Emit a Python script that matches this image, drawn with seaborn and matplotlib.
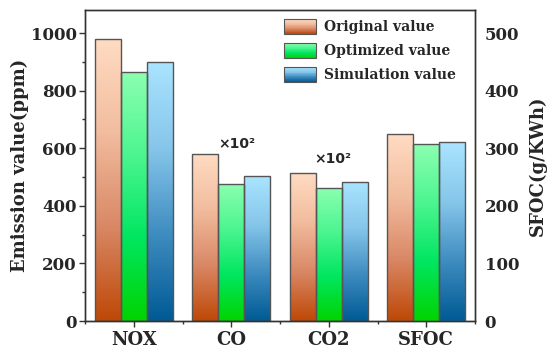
import numpy as np
import pandas as pd
import matplotlib
matplotlib.use("Agg")
import matplotlib.pyplot as plt
import seaborn as sns
from matplotlib.colors import LinearSegmentedColormap, to_rgba
from matplotlib.patches import Patch, Rectangle
from matplotlib.legend_handler import HandlerBase
from matplotlib.ticker import MultipleLocator, FixedLocator

# ==========================================================
# DATA
# ==========================================================

categories = ["NOX", "CO", "CO2", "SFOC"]
series = ["Original value", "Optimized value", "Simulation value"]

# emissions (ppm, CO / CO2 shown x10^2)
emis_categories = ["NOX", "CO", "CO2"]
original = [980, 581, 515]
optimized = [863, 477, 462]
simulation = [901, 503, 484]

# specific fuel oil consumption (g/KWh), right axis
sfoc_original = [324]
sfoc_optimized = [307]
sfoc_simulation = [310]

left_ticks = [0, 200, 400, 600, 800, 1000]
right_ticks = [0, 100, 200, 300, 400, 500]

# ==========================================================
# STYLE
# ==========================================================

sns.set_style("ticks")
plt.rcParams["font.family"] = ["DejaVu Serif"]
plt.rcParams["font.weight"] = "bold"

# bottom -> top colours of each gradient
grad_colors = {
    "Original value": ["#BE4806", "#D98866", "#F2BC9E", "#FFDCC3"],
    "Optimized value": ["#00D400", "#00E660", "#4CF590", "#8CFFB0"],
    "Simulation value": ["#005A94", "#3E8CC0", "#86C6EA", "#AAE4FF"],
}
cmaps = {k: LinearSegmentedColormap.from_list(k, v) for k, v in grad_colors.items()}
palette = {k: v[1] for k, v in grad_colors.items()}

df_emis = pd.DataFrame({
    "category": emis_categories * 3,
    "series": np.repeat(series, len(emis_categories)),
    "value": original + optimized + simulation,
})
df_sfoc = pd.DataFrame({
    "category": ["SFOC"] * 3,
    "series": series,
    "value": sfoc_original + sfoc_optimized + sfoc_simulation,
})

fig, ax = plt.subplots(figsize=(5.5, 3.56), dpi=100)
fig.subplots_adjust(left=85 / 550, right=475 / 550, bottom=1 - 321 / 356, top=1 - 10 / 356)
ax2 = ax.twinx()

sns.barplot(data=df_emis, x="category", y="value", hue="series", order=categories,
            hue_order=series, palette=palette, errorbar=None, width=0.8,
            saturation=1, legend=False, ax=ax)
sns.barplot(data=df_sfoc, x="category", y="value", hue="series", order=categories,
            hue_order=series, palette=palette, errorbar=None, width=0.8,
            saturation=1, legend=False, ax=ax2)

# ==========================================================
# GRADIENT FILL
# ==========================================================

color_to_cmap = {tuple(np.round(to_rgba(palette[s]), 2)): cmaps[s] for s in series}
grad = np.linspace(0, 1, 256).reshape(-1, 1)

for axis in (ax, ax2):
    for p in list(axis.patches):
        key = tuple(np.round(p.get_facecolor(), 2))
        if key not in color_to_cmap:
            continue
        x0, y0 = p.get_x(), p.get_y()
        w, h = p.get_width(), p.get_height()
        if h <= 0:
            continue
        im = axis.imshow(grad, extent=[x0, x0 + w, y0, y0 + h], origin="lower",
                         aspect="auto", cmap=color_to_cmap[key], zorder=1)
        im.set_clip_path(p)
        p.set_facecolor("none")
        p.set_edgecolor("#555555")
        p.set_linewidth(1.0)
        p.set_zorder(2)

# ==========================================================
# AXES
# ==========================================================

ax.set_xlim(-0.5, 3.5)
ax.set_ylim(0, 1080)
ax2.set_ylim(0, 540)

ax.set_xticks(range(len(categories)))
ax.set_xticklabels(categories, fontsize=13, fontweight="bold")
ax.xaxis.set_minor_locator(FixedLocator([-0.5, 0.5, 1.5, 2.5, 3.5]))
ax.set_yticks(left_ticks)
ax.yaxis.set_minor_locator(MultipleLocator(100))
ax2.set_yticks(right_ticks)
ax2.yaxis.set_minor_locator(FixedLocator([]))

ax.tick_params(axis="both", which="major", direction="out", length=4, width=1,
               labelsize=12, color="#333333", pad=2)
ax.tick_params(axis="x", which="major", length=4, labelsize=13, pad=3)
ax.tick_params(axis="both", which="minor", direction="out", length=2.5, width=1, color="#333333")
ax2.tick_params(axis="y", which="both", length=0, labelsize=12, pad=7)

for t in ax.get_yticklabels() + ax2.get_yticklabels() + ax.get_xticklabels():
    t.set_fontweight("bold")

ax.set_xlabel("")
ax.set_ylabel("Emission value(ppm)", fontsize=13, fontweight="bold", labelpad=1)
ax2.set_ylabel("SFOC(g/KWh)", fontsize=13, fontweight="bold", labelpad=7)

for axis in (ax, ax2):
    for s in axis.spines.values():
        s.set_visible(True)
        s.set_linewidth(1.0)
        s.set_color("#333333")

# scale notes
ax.text(1.06, 613, "×10²", ha="center", va="center", fontsize=10,
        fontweight="bold", family="DejaVu Sans")
ax.text(2.04, 561, "×10²", ha="center", va="center", fontsize=10,
        fontweight="bold", family="DejaVu Sans")

# ==========================================================
# LEGEND WITH GRADIENT HANDLES
# ==========================================================

class GradientHandler(HandlerBase):
    def __init__(self, cmap):
        super().__init__()
        self.cmap = cmap

    def create_artists(self, legend, orig_handle, xdescent, ydescent,
                       width, height, fontsize, trans):
        n = 24
        arts = []
        for i in range(n):
            r = Rectangle((-xdescent, -ydescent + height * i / n), width, height / n * 1.05,
                          facecolor=self.cmap((i + 0.5) / n), edgecolor="none",
                          transform=trans)
            arts.append(r)
        arts.append(Rectangle((-xdescent, -ydescent), width, height, fill=False,
                              edgecolor="#555555", linewidth=0.8, transform=trans))
        return arts

handles = [Patch(label=s) for s in series]
ax2.legend(handles=handles, labels=series,
           handler_map={h: GradientHandler(cmaps[s]) for h, s in zip(handles, series)},
           loc="upper left", bbox_to_anchor=(284 / 550, 1 - 19 / 356),
           bbox_transform=fig.transFigure, frameon=False, borderpad=0,
           borderaxespad=0, handlelength=2.3, handleheight=1.25, handletextpad=0.6,
           labelspacing=0.65, prop={"family": "DejaVu Serif", "weight": "bold", "size": 10})

plt.savefig("out.png", dpi=100)
